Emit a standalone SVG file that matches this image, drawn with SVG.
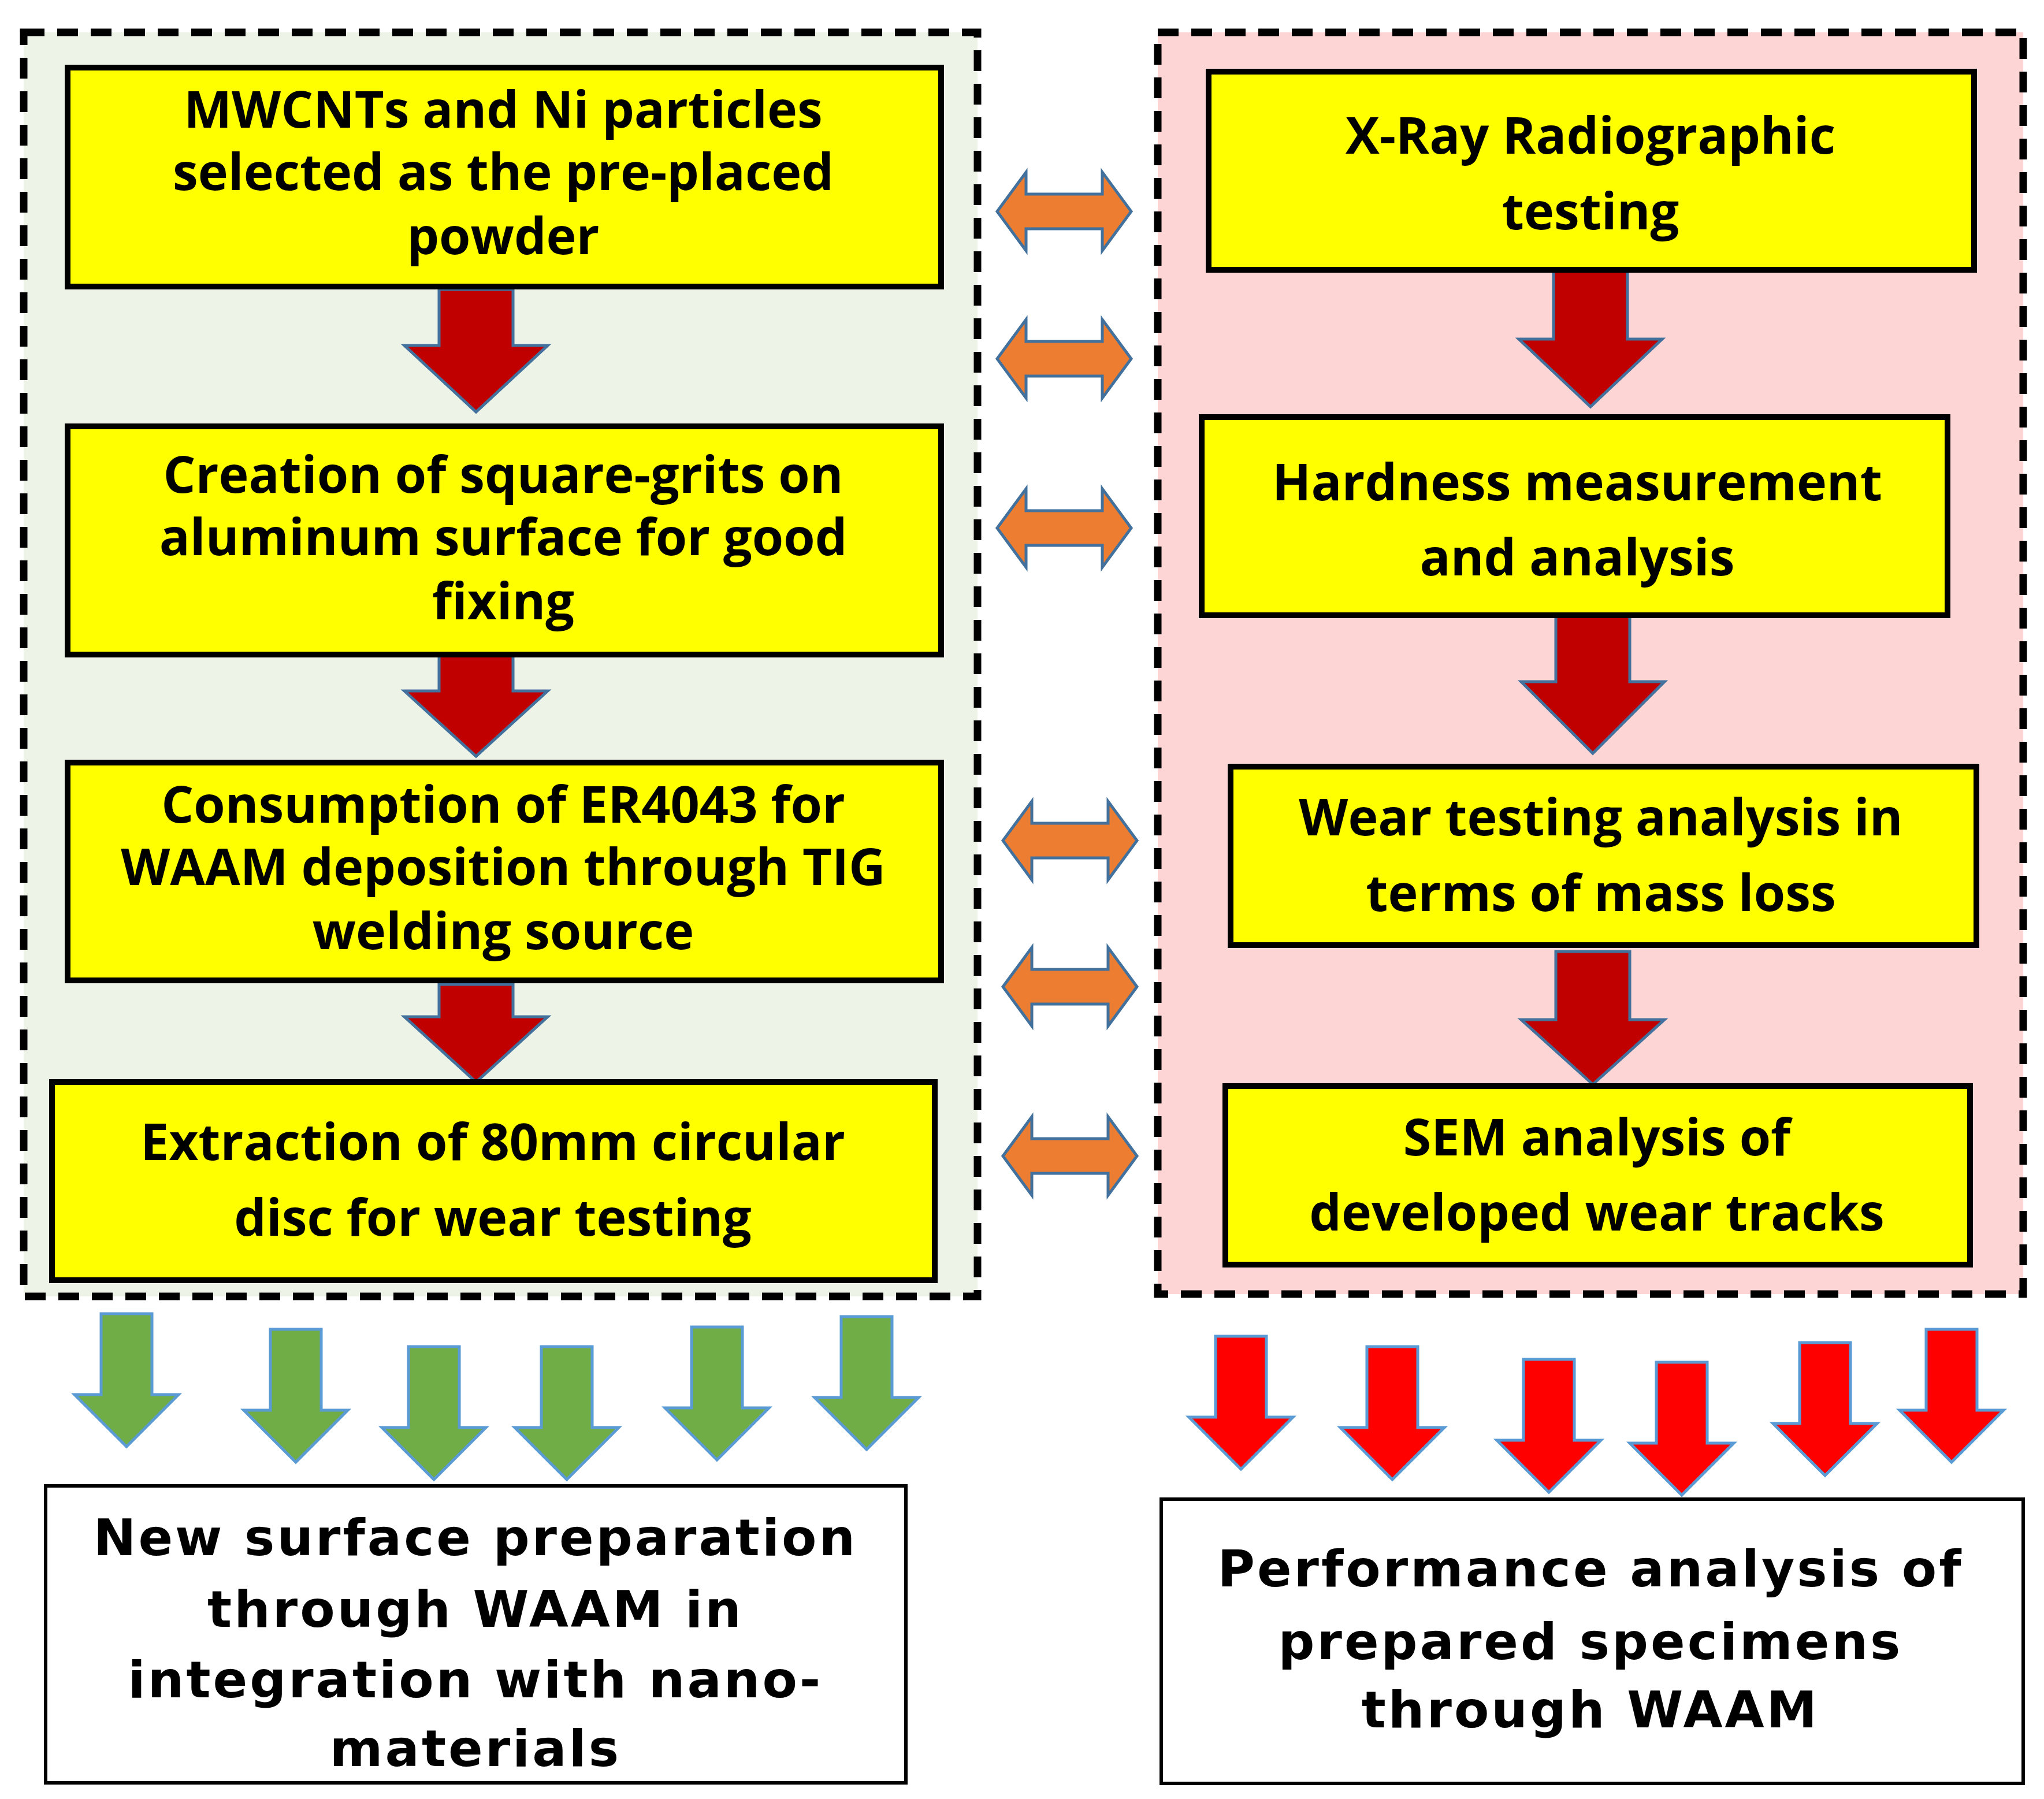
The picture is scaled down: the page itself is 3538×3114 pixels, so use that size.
<svg xmlns="http://www.w3.org/2000/svg" width="3538" height="3114" viewBox="0 0 3538 3114">
<style>
.box{fill:#ffff00;stroke:#000;stroke-width:10}
.wbox{fill:#fff;stroke:#000;stroke-width:6}
.t{font-family:"Open Sans","Liberation Sans",sans-serif;font-weight:700;font-size:88px;text-anchor:middle;fill:#000}
.b{font-family:"DejaVu Sans","Liberation Sans",sans-serif;font-weight:bold;font-size:88px;letter-spacing:4px;text-anchor:middle;fill:#000}
.dr{fill:#c00000;stroke:#41719c;stroke-width:5}
.or{fill:#ed7d31;stroke:#41719c;stroke-width:5}
.gr{fill:#70ad47;stroke:#5b9bd5;stroke-width:5}
.rd{fill:#ff0000;stroke:#5b9bd5;stroke-width:5}
.cont{stroke:#000;stroke-width:13;stroke-dasharray:36 22}
</style>
<defs>
<path id="dbl" d="M-116 0 L-66 -68 V-30 H66 V-68 L116 0 L66 68 V30 H-66 V68 Z"/>
<path id="dn" d="M-44 0 H44 V140 H90 L0 230 L-90 140 H-44 Z"/>
</defs>
<rect width="3538" height="3114" fill="#fff"/>
<g id="left-container"><rect x="41" y="56" width="1651" height="2188" fill="#eef3e8" class="cont"/></g>
<g id="right-container"><rect x="2004" y="56" width="1498" height="2184" fill="#fdd5d5" class="cont"/></g>
<g id="connectors">
<path class="dr" d="M760 501 H888 V598 H948 L824 713 L700 598 H760 Z"/>
<path class="dr" d="M760 1135 H888 V1196 H948 L824 1309 L700 1196 H760 Z"/>
<path class="dr" d="M760 1704 H888 V1760 H948 L824 1873 L700 1760 H760 Z"/>
<path class="dr" d="M2689 469 H2817 V587 H2877 L2753 704 L2629 587 H2689 Z"/>
<path class="dr" d="M2693 1067 H2821 V1180 H2881 L2757 1304 L2633 1180 H2693 Z"/>
<path class="dr" d="M2693 1647 H2821 V1765 H2881 L2757 1877 L2633 1765 H2693 Z"/>
<use href="#dbl" class="or" x="1842" y="366"/>
<use href="#dbl" class="or" x="1842" y="621"/>
<use href="#dbl" class="or" x="1842" y="914"/>
<use href="#dbl" class="or" x="1852" y="1455"/>
<use href="#dbl" class="or" x="1852" y="1708"/>
<use href="#dbl" class="or" x="1852" y="2001"/>
<use href="#dn" class="gr" x="219" y="2274"/>
<use href="#dn" class="gr" x="512" y="2301"/>
<use href="#dn" class="gr" x="751" y="2331"/>
<use href="#dn" class="gr" x="981" y="2331"/>
<use href="#dn" class="gr" x="1241" y="2297"/>
<use href="#dn" class="gr" x="1500" y="2279"/>
<use href="#dn" class="rd" x="2148" y="2313"/>
<use href="#dn" class="rd" x="2410" y="2331"/>
<use href="#dn" class="rd" x="2681" y="2353"/>
<use href="#dn" class="rd" x="2911" y="2358"/>
<use href="#dn" class="rd" x="3159" y="2324"/>
<use href="#dn" class="rd" x="3378" y="2301"/>
</g>
<g id="l1"><rect class="box" x="117" y="117" width="1512" height="379"/>
<text class="t" x="871" y="221">MWCNTs and Ni particles</text><text class="t" x="871" y="329">selected as the pre-placed</text><text class="t" x="871" y="440">powder</text></g>
<g id="l2"><rect class="box" x="117" y="738" width="1512" height="395"/>
<text class="t" x="871" y="853">Creation of square-grits on</text><text class="t" x="871" y="961">aluminum surface for good</text><text class="t" x="871" y="1072">fixing</text></g>
<g id="l3"><rect class="box" x="117" y="1320" width="1512" height="377"/>
<text class="t" x="871" y="1424">Consumption of ER4043 for</text><text class="t" x="871" y="1532">WAAM deposition through TIG</text><text class="t" x="871" y="1643">welding source</text></g>
<g id="l4"><rect class="box" x="90" y="1873" width="1528" height="343"/>
<text class="t" x="853" y="2008">Extraction of 80mm circular</text><text class="t" x="853" y="2139">disc for wear testing</text></g>
<g id="r1"><rect class="box" x="2092" y="124" width="1325" height="343"/>
<text class="t" x="2753" y="266">X-Ray Radiographic</text><text class="t" x="2753" y="397">testing</text></g>
<g id="r2"><rect class="box" x="2080" y="722" width="1291" height="343"/>
<text class="t" x="2730" y="866">Hardness measurement</text><text class="t" x="2730" y="996">and analysis</text></g>
<g id="r3"><rect class="box" x="2130" y="1327" width="1291" height="309"/>
<text class="t" x="2771" y="1446">Wear testing analysis in</text><text class="t" x="2771" y="1577">terms of mass loss</text></g>
<g id="r4"><rect class="box" x="2121" y="1880" width="1289" height="309"/>
<text class="t" x="2764" y="2000">SEM analysis of</text><text class="t" x="2764" y="2130">developed wear tracks</text></g>
<g id="bl"><rect class="wbox" x="79" y="2572" width="1489" height="514"/>
<text class="b" x="823" y="2692">New surface preparation</text><text class="b" x="823" y="2816">through WAAM in</text><text class="b" x="823" y="2938">integration with nano-</text><text class="b" x="823" y="3057">materials</text></g>
<g id="br"><rect class="wbox" x="2010" y="2595" width="1492" height="492"/>
<text class="b" x="2753" y="2746">Performance analysis of</text><text class="b" x="2753" y="2872">prepared specimens</text><text class="b" x="2753" y="2990">through WAAM</text></g>
</svg>
